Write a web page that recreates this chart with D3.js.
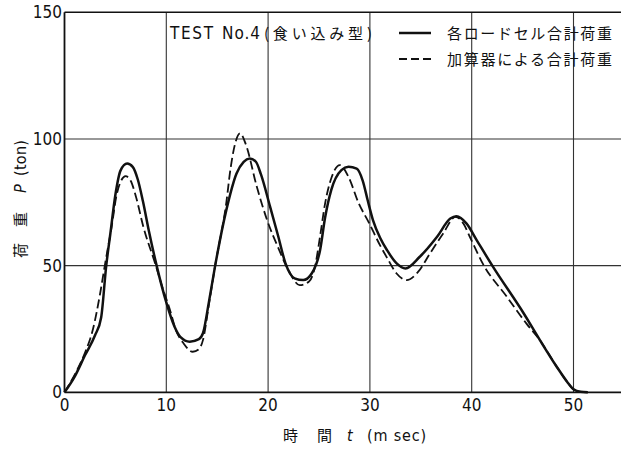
<!DOCTYPE html>
<html><head><meta charset="utf-8">
<script src="https://cdn.jsdelivr.net/npm/d3@7"></script>
<style>
html,body{margin:0;padding:0;background:#fff;}
svg{display:block;}
text{fill:#111;}
</style></head>
<body>
<svg id="chart" width="621" height="449"></svg>
<script>
// ---- data ----
const xTicks = [0, 10, 20, 30, 40, 50];
const yTicks = [0, 50, 100, 150];
const seriesNames = ["各ロードセル合計荷重", "加算器による合計荷重"];
const titleParts = ["TEST", "No.4", "(食い込み型)"];
const yLabelParts = ["荷", "重", "P", "(ton)"];
const xLabelParts = ["時", "間", "t", "(m sec)"];

const solidT = [0,1,2,3,3.6,4.1,4.5,5.0,5.5,6.15,6.7,7.2,7.7,8.3,9.05,10.0,10.8,11.4,12.3,13.2,13.6,14.2,14.8,15.9,16.9,17.6,18.2,18.8,19.3,20.2,21.0,21.7,22.6,23.45,24.3,25.1,25.6,26.2,27.2,27.9,28.7,29.3,29.8,30.3,31.0,31.7,32.6,33.5,34.9,36.6,37.9,38.5,39.5,40.5,42.1,45.1,46.7,48.35,49.4,50.0,50.7,51.4];
const solidP = [0,6.2,14.5,22.5,29.5,50,62.5,78,87.5,90.3,89,84,75.5,63.5,50,35.5,26,21.8,20,21,23.3,36,50,72,86.4,91,92.3,91,86,73.2,61.5,51,45,44.3,47,56,69,79.8,87.7,89,88.3,83.5,75.5,68,61,56,51,48.9,53.5,61.4,68.6,69.5,66.6,60,49.5,31.2,20.6,10.1,4,1.2,0.2,0];

const dashT = [0,1.2,2.0,2.8,3.5,4.0,4.63,5.1,5.5,6.0,6.5,7.0,7.75,8.9,9.7,10.4,10.9,11.7,12.6,13.2,13.6,14.2,14.8,15.9,16.3,16.75,17.25,17.8,18.9,19.9,21.0,22.0,23.1,24.0,24.6,25.1,25.6,26.25,27.05,27.9,28.9,29.9,31.0,31.7,32.6,33.6,34.75,35.9,37.2,38.4,39.2,39.8,41.2,43.4,45.4,46.7,48.35,49.4,50.0,50.7,51.4];
const dashP = [0,8.5,15.5,25,39,51,65.3,77.5,83,85.3,83.5,77.5,65.3,50.9,40.4,32,25,19.3,16,17,20.6,35,50,75,88,98,102.2,98,81,68,57,48.2,42.3,43.6,49.5,61.4,74.6,85,89.7,85,74.6,67,58,53,47,44.3,47.6,54.8,62.7,69.3,66.5,61.5,50,38,27,20.6,10.1,4,1.2,0.2,0];

// ---- layout ----
const svg = d3.select("#chart");
const pLeft = 64.5, pRight = 621, pTop = 12.3, pBottom = 392.3;
const x = d3.scaleLinear().domain([0, 10]).range([pLeft, pLeft + 101.8]);
const y = d3.scaleLinear().domain([0, 150]).range([pBottom, pTop]);

// grid
const g = svg.append("g");
g.selectAll(".vg").data(xTicks.filter(d => d > 0)).join("line")
  .attr("x1", d => x(d)).attr("x2", d => x(d))
  .attr("y1", pTop).attr("y2", pBottom)
  .attr("stroke", "#333").attr("stroke-width", 1.1);
g.selectAll(".hg").data(yTicks.filter(d => d > 0 && d < 150)).join("line")
  .attr("x1", pLeft).attr("x2", pRight)
  .attr("y1", d => y(d)).attr("y2", d => y(d))
  .attr("stroke", "#333").attr("stroke-width", 1.1);

// frame
g.append("line").attr("x1", pLeft).attr("x2", pRight).attr("y1", y(150)).attr("y2", y(150)).attr("stroke", "#111").attr("stroke-width", 1.6);
g.append("line").attr("x1", pLeft).attr("x2", pRight).attr("y1", y(0)).attr("y2", y(0)).attr("stroke", "#111").attr("stroke-width", 1.8);
g.append("line").attr("x1", pLeft).attr("x2", pLeft).attr("y1", pTop).attr("y2", pBottom).attr("stroke", "#111").attr("stroke-width", 1.8);

// tick labels
const tickFont = "'Liberation Sans Narrow','DejaVu Sans Condensed',sans-serif";
svg.append("g").selectAll("text").data(yTicks).join("text")
  .attr("x", pLeft - 2.5).attr("y", d => y(d) + 6)
  .attr("text-anchor", "end").attr("font-family", tickFont).attr("font-size", 17)
  .text(d => d);
svg.append("g").selectAll("text").data(xTicks).join("text")
  .attr("x", d => x(d)).attr("y", pBottom + 19)
  .attr("text-anchor", "middle").attr("font-family", tickFont).attr("font-size", 17)
  .text(d => d);

// lines
const line = d3.line().x(d => x(d[0])).y(d => y(d[1])).curve(d3.curveMonotoneX);
const solid = solidT.map((t, i) => [t, solidP[i]]);
const dashed = dashT.map((t, i) => [t, dashP[i]]);
svg.append("path").attr("d", line(dashed)).attr("fill", "none")
  .attr("stroke", "#111").attr("stroke-width", 1.8).attr("stroke-dasharray", "9,4");
svg.append("path").attr("d", line(solid)).attr("fill", "none")
  .attr("stroke", "#111").attr("stroke-width", 2.5);

const cjk = "'Noto Sans CJK JP','Noto Sans',sans-serif";
const latin = "'Liberation Sans Narrow','DejaVu Sans Condensed',sans-serif";

// title
const titleX = [170, 222, 264], titleW = [43, 38, 108];
svg.append("g").selectAll("text").data(titleParts).join("text")
  .attr("x", (d, i) => titleX[i]).attr("y", 39)
  .attr("font-family", (d, i) => i < 2 ? latin : cjk).attr("font-size", (d, i) => i < 2 ? 17 : 15)
  .attr("textLength", (d, i) => titleW[i]).attr("lengthAdjust", "spacing")
  .text(d => d);

// legend
const leg = svg.append("g");
leg.append("line").attr("x1", 399).attr("x2", 431).attr("y1", 33).attr("y2", 33)
  .attr("stroke", "#111").attr("stroke-width", 2.5);
leg.append("line").attr("x1", 399).attr("x2", 433).attr("y1", 59).attr("y2", 59)
  .attr("stroke", "#111").attr("stroke-width", 1.8).attr("stroke-dasharray", "8,4");
leg.selectAll("text").data(seriesNames).join("text")
  .attr("x", 447).attr("y", (d, i) => 39 + i * 26)
  .attr("font-family", cjk).attr("font-size", 15)
  .attr("textLength", 165).attr("lengthAdjust", "spacing")
  .text(d => d);

// y axis title (rotated, reading bottom to top)
const yLabY = [258, 227, 193, 176];
const yl = svg.append("g");
yLabelParts.forEach((s, i) => {
  const t = yl.append("text")
    .attr("transform", `translate(26,${yLabY[i]}) rotate(-90)`)
    .attr("font-family", i < 2 ? cjk : latin)
    .attr("font-size", i < 2 ? 15 : 16)
    .attr("font-style", i === 2 ? "italic" : "normal")
    .text(s);
  if (i === 3) t.attr("textLength", 36).attr("lengthAdjust", "spacing");
});

// x axis title
const xLabX = [283, 317, 347, 367];
const xl = svg.append("g");
xLabelParts.forEach((s, i) => {
  const t = xl.append("text").attr("x", xLabX[i]).attr("y", 441)
    .attr("font-family", i < 2 ? cjk : latin)
    .attr("font-size", i < 2 ? 15 : 16)
    .attr("font-style", i === 2 ? "italic" : "normal")
    .text(s);
  if (i === 3) t.attr("textLength", 59).attr("lengthAdjust", "spacing");
});
</script>
</body></html>
